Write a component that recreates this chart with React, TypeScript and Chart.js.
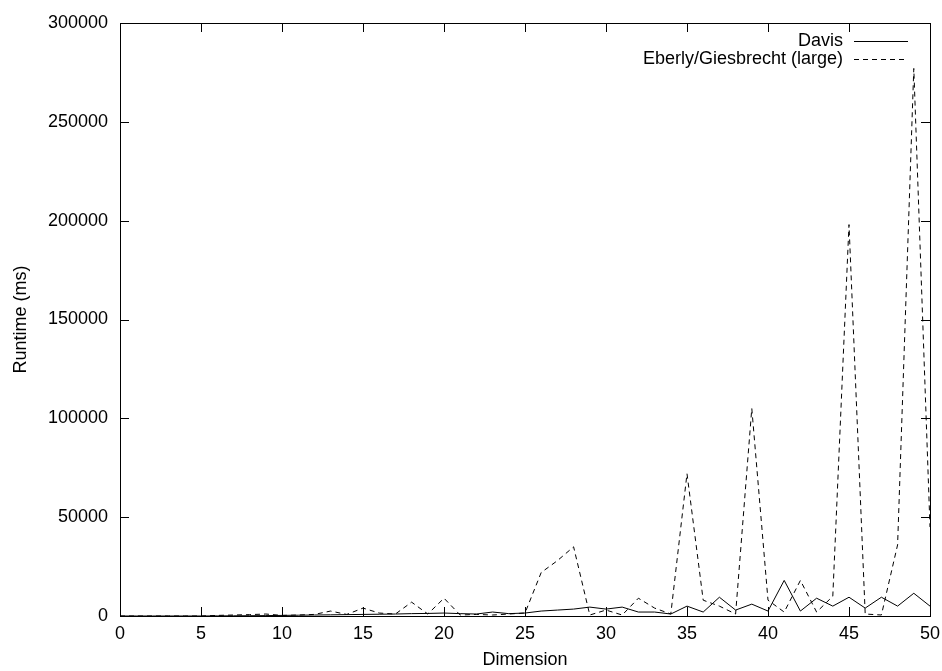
import React, { useEffect, useRef } from "react";
import { Chart, registerables } from "chart.js";

Chart.register(...registerables);

const dimensions = [0,1,2,3,4,5,6,7,8,9,10,11,12,13,14,15,16,17,18,19,20,21,22,23,24,25,26,27,28,29,30,31,32,33,34,35,36,37,38,39,40,41,42,43,44,45,46,47,48,49,50];
const davis = [0,0,0,0,0,0,50,100,150,200,300,400,500,600,700,800,900,1000,1200,1300,1500,1200,1000,2000,1200,1500,2500,3000,3500,4500,3500,4500,2000,2000,1000,5000,2000,9500,3000,6000,2500,18000,2500,9000,5000,9500,4000,9500,5000,11500,5000];
const eberly = [0,0,0,0,0,0,300,500,700,1000,300,500,800,2500,800,4000,1500,1000,7000,1000,9000,500,800,500,1000,1500,22000,28000,35000,500,3000,500,9000,4000,1000,72000,8000,5000,1000,105000,8000,2000,18000,2000,10000,198000,1000,500,36000,277000,45000];
const seriesLabels = ["Davis", "Eberly/Giesbrecht (large)"];
const xTitle = "Dimension";
const yTitle = "Runtime (ms)";

const FONT = "Liberation Sans, Arial, sans-serif";

const framePlugin = {
  id: "gnuFrame",
  afterDraw(chart: any) {
    const { ctx, chartArea: a, scales } = chart;
    const xs = scales.x, ys = scales.y;
    ctx.save();
    ctx.strokeStyle = "#000";
    ctx.lineWidth = 1;
    ctx.setLineDash([]);
    ctx.strokeRect(Math.round(a.left) + 0.5, Math.round(a.top) + 0.5, Math.round(a.right - a.left), Math.round(a.bottom - a.top));
    const tl = 9;
    ctx.beginPath();
    xs.ticks.forEach((t: any) => {
      const px = Math.round(xs.getPixelForValue(t.value)) + 0.5;
      ctx.moveTo(px, a.bottom); ctx.lineTo(px, a.bottom - tl);
      ctx.moveTo(px, a.top); ctx.lineTo(px, a.top + tl);
    });
    ys.ticks.forEach((t: any) => {
      const py = Math.round(ys.getPixelForValue(t.value)) + 0.5;
      ctx.moveTo(a.left, py); ctx.lineTo(a.left + tl, py);
      ctx.moveTo(a.right, py); ctx.lineTo(a.right - tl, py);
    });
    ctx.stroke();
    // legend
    ctx.font = `18px ${FONT}`;
    ctx.textAlign = "right";
    ctx.textBaseline = "middle";
    ctx.fillStyle = "#000";
    chart.data.datasets.forEach((ds: any, i: number) => {
      const y = 41 + i * 18;
      ctx.fillText(ds.label, 843, y);
      ctx.beginPath();
      ctx.setLineDash(ds.borderDash || []);
      ctx.strokeStyle = "#000";
      ctx.lineWidth = 1;
      ctx.moveTo(854, Math.round(y) + 0.5);
      ctx.lineTo(908, Math.round(y) + 0.5);
      ctx.stroke();
    });
    ctx.restore();
  },
};

export default function App() {
  const ref = useRef<HTMLCanvasElement | null>(null);
  useEffect(() => {
    document.body.style.margin = "0";
    document.body.style.background = "#fff";
    const chart = new Chart(ref.current as HTMLCanvasElement, {
      type: "line",
      data: {
        labels: dimensions,
        datasets: [
          {
            label: seriesLabels[0],
            data: dimensions.map((d, i) => ({ x: d, y: davis[i] })),
            borderColor: "#000",
            borderWidth: 1,
            pointRadius: 0,
            tension: 0,
            fill: false,
          },
          {
            label: seriesLabels[1],
            data: dimensions.map((d, i) => ({ x: d, y: eberly[i] })),
            borderColor: "#000",
            borderWidth: 1,
            borderDash: [5, 4],
            pointRadius: 0,
            tension: 0,
            fill: false,
          },
        ],
      },
      plugins: [framePlugin],
      options: {
        responsive: false,
        animation: false,
        layout: { padding: { top: 23, right: 12, left: 0, bottom: 0 } },
        plugins: { legend: { display: false }, tooltip: { enabled: false } },
        scales: {
          x: {
            type: "linear",
            min: 0,
            max: 50,
            border: { display: false },
            grid: { display: false, drawTicks: false },
            ticks: { stepSize: 5, color: "#000", font: { family: FONT, size: 18 }, padding: 7, maxRotation: 0 },
            title: { display: true, text: xTitle, color: "#000", font: { family: FONT, size: 18 }, padding: { top: 0, bottom: 0 } },
            afterFit: (s: any) => { s.height = 55; s.paddingLeft = 0; s.paddingRight = 0; },
          },
          y: {
            type: "linear",
            min: 0,
            max: 300000,
            border: { display: false },
            grid: { display: false, drawTicks: false },
            ticks: {
              stepSize: 50000,
              color: "#000",
              font: { family: FONT, size: 18 },
              padding: 12,
              callback: (v: any) => String(v),
            },
            title: { display: true, text: yTitle, color: "#000", font: { family: FONT, size: 18 }, padding: { top: 10, bottom: 0 } },
            afterFit: (s: any) => { s.width = 120; s.paddingTop = 0; s.paddingBottom = 0; },
          },
        },
      },
    } as any);
    return () => chart.destroy();
  }, []);
  return <canvas ref={ref} width={942} height={671} style={{ display: "block" }} />;
}
